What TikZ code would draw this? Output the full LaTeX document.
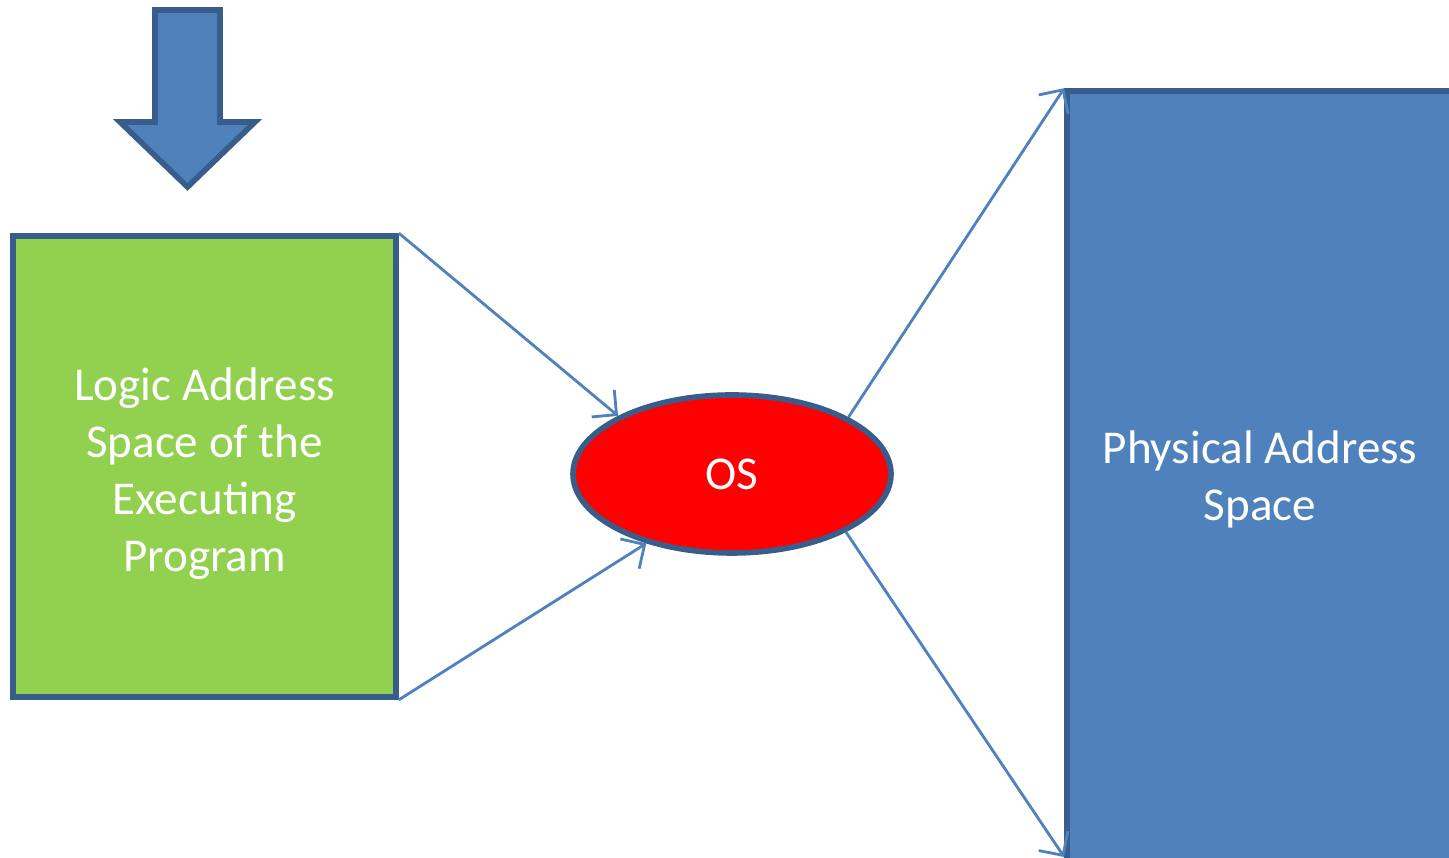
\documentclass[tikz,border=0pt]{standalone}
\usepackage{fontspec}
\setmainfont{Carlito}
\usetikzlibrary{shapes.geometric,arrows.meta}
\definecolor{fillblue}{HTML}{4F81BD}
\definecolor{edgeblue}{HTML}{385D8A}
\definecolor{fillgreen}{HTML}{92D050}
\begin{document}
\begin{tikzpicture}[
	box/.style={
		draw=edgeblue,
		line width=1.6pt,
		inner sep=0pt,
		text=white,
		align=center,
		font=\fontsize{13.4}{16.2}\selectfont
	},
	link/.style={
		draw=fillblue,
		line width=0.8pt,
		-{Straight Barb[length=5pt,width=10pt]}
	}
	]
	\clip (0,0) rectangle (14.49,8.58);
	%---------------- ARROW ----------------
	\draw[edgeblue,fill=fillblue,line width=1.6pt,line join=miter]
		(1.55,8.48)--(2.20,8.48)--(2.20,7.36)--(2.55,7.36)--(1.875,6.71)
		--(1.20,7.36)--(1.55,7.36)--cycle;
	%---------------- BOXES ----------------
	\node[box,fill=fillgreen,minimum width=3.83cm,minimum height=4.61cm]
		(logic) at (2.045,3.915) {\\[-0.1cm]Logic Address\\Space of the\\Executing\\Program};
	\node[box,fill=red,ellipse,minimum width=3.18cm,minimum height=1.58cm]
		(os) at (7.32,3.84) {OS};
	\node[box,fill=fillblue,minimum width=3.86cm,minimum height=7.77cm]
		(phys) at (12.60,3.785) {Physical Address\\Space};
	%---------------- LINKS ----------------
	\draw[link] (logic.north east) -- (os.153);
	\draw[link] (logic.south east) -- (os.219);
	\draw[link] (os.26) -- (phys.north west);
	\draw[link] (os.333) -- (phys.south west |- 0,0.01);
\end{tikzpicture}
\end{document}
